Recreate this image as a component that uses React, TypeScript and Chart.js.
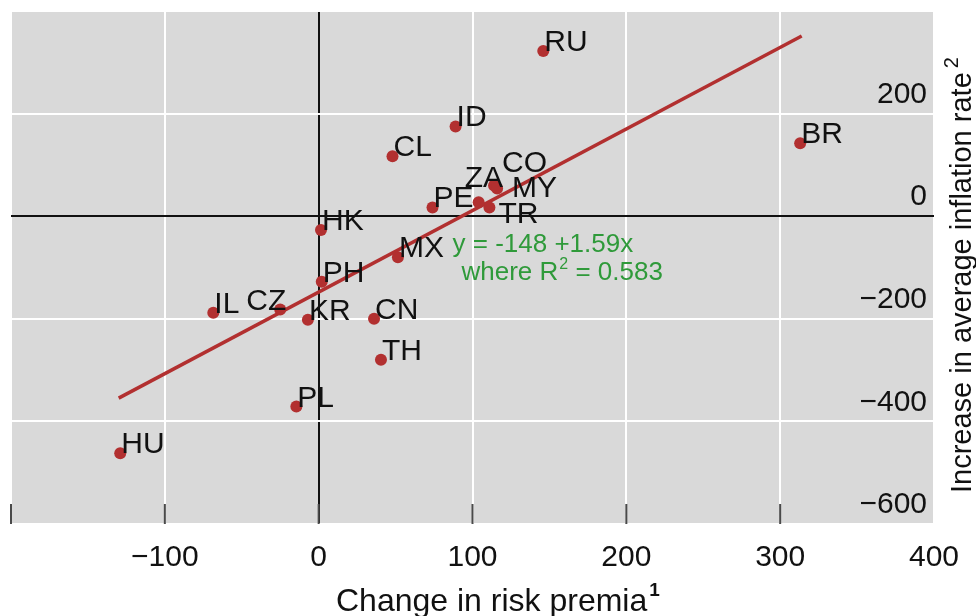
import { useEffect, useRef } from 'react';
import { Chart, registerables } from 'chart.js';

Chart.register(...registerables);

// ---- data ----
const countries = ['RU', 'ID', 'CL', 'BR', 'CO', 'MY', 'ZA', 'TR', 'PE', 'HK', 'MX', 'PH', 'IL', 'CZ', 'KR', 'CN', 'TH', 'PL', 'HU'];
const riskPremiaChange = [146, 89, 48, 313, 114, 116, 104, 111, 74, 1.5, 51.5, 2, -68.5, -25, -7, 36, 40.5, -14.5, -129];
const inflationIncrease = [322, 175, 117, 142, 60, 54, 27, 17, 17, -27, -80, -128, -188, -182, -202, -200, -280, -371, -462];
const fitIntercept = -148;
const fitSlope = 1.59;
const fitRSquared = 0.583;
const fitXRange = [-130, 314];
const xTickValues = [-200, -100, 0, 100, 200, 300, 400];
const yTickValues = [-600, -400, -200, 0, 200, 400];
const xTitle = 'Change in risk premia';
const xTitleNote = '1';
const yTitle = 'Increase in average inflation rate';
const yTitleNote = '2';

const FONT = '"Liberation Sans", Arial, Helvetica, sans-serif';
const RED = '#b23030';
const GREEN = '#2f9a3a';
const INK = '#111111';

// label placement tweaks (text offsets relative to each dot)
const labelPlacement: Record<string, { dx: number; dy: number; align: CanvasTextAlign }> = {
  CZ: { dx: 6, dy: 0, align: 'right' },
  ZA: { dx: -14, dy: -15, align: 'left' },
  CO: { dx: 8, dy: -13, align: 'left' },
  MY: { dx: 15, dy: 9, align: 'left' },
  TR: { dx: 9, dy: 16, align: 'left' },
};

const fmt = (v: number) => (v < 0 ? '\u2212' + Math.abs(v) : String(v));

export default function App() {
  const ref = useRef<HTMLCanvasElement | null>(null);

  useEffect(() => {
    if (!ref.current) return;

    const bgPlugin = {
      id: 'bg',
      beforeDraw(chart: any) {
        const { ctx, chartArea: a } = chart;
        ctx.save();
        ctx.fillStyle = '#ffffff';
        ctx.fillRect(0, 0, chart.width, chart.height);
        ctx.fillStyle = '#d9d9d9';
        ctx.fillRect(a.left, a.top, a.right - a.left, a.bottom - a.top);
        ctx.restore();
      },
      beforeDatasetsDraw(chart: any) {
        const { ctx, chartArea: a } = chart;
        const xs = chart.scales.x;
        ctx.save();
        ctx.strokeStyle = '#4a4a4a';
        ctx.lineWidth = 2;
        xTickValues.forEach((v) => {
          if (v >= 400) return;
          const px = xs.getPixelForValue(v);
          ctx.beginPath();
          ctx.moveTo(px, a.bottom - 20);
          ctx.lineTo(px, a.bottom);
          ctx.stroke();
        });
        ctx.restore();
      },
      afterDatasetsDraw(chart: any) {
        const { ctx } = chart;
        const meta = chart.getDatasetMeta(0);
        ctx.save();
        ctx.font = `30px ${FONT}`;
        ctx.fillStyle = INK;
        ctx.textBaseline = 'alphabetic';
        meta.data.forEach((el: any, i: number) => {
          const name = countries[i];
          const p = labelPlacement[name] || { dx: 1, dy: 0, align: 'left' as CanvasTextAlign };
          ctx.textAlign = p.align;
          ctx.fillText(name, el.x + p.dx, el.y + p.dy);
        });

        // regression annotation
        const xs = chart.scales.x;
        const ys = chart.scales.y;
        const ax = xs.getPixelForValue(87);
        const ay = ys.getPixelForValue(-70);
        ctx.fillStyle = GREEN;
        ctx.font = `26px ${FONT}`;
        ctx.textAlign = 'left';
        ctx.fillText(`y = ${fitIntercept} +${fitSlope}x`, ax, ay);
        const l2x = ax + 9;
        const l2y = ay + 28;
        const part1 = 'where R';
        ctx.fillText(part1, l2x, l2y);
        const w1 = ctx.measureText(part1).width;
        ctx.font = `16px ${FONT}`;
        ctx.fillText('2', l2x + w1 + 1, l2y - 11);
        const w2 = ctx.measureText('2').width;
        ctx.font = `26px ${FONT}`;
        ctx.fillText(` = ${fitRSquared}`, l2x + w1 + w2 + 1, l2y);

        // x title
        ctx.fillStyle = INK;
        ctx.font = `32px ${FONT}`;
        const tx = 336;
        const ty = 611;
        ctx.fillText(xTitle, tx, ty);
        const tw = ctx.measureText(xTitle).width;
        ctx.font = `bold 19px ${FONT}`;
        ctx.fillText(xTitleNote, tx + tw + 2, ty - 15);

        // y title (rotated, reading bottom to top)
        ctx.save();
        ctx.translate(971, 493);
        ctx.rotate(-Math.PI / 2);
        ctx.font = `29px ${FONT}`;
        ctx.fillText(yTitle, 0, 0);
        const yw = ctx.measureText(yTitle).width;
        ctx.font = `20px ${FONT}`;
        ctx.fillText(yTitleNote, yw + 4, -13);
        ctx.restore();

        ctx.restore();
      },
    };

    const fitData = fitXRange.map((x) => ({ x, y: fitIntercept + fitSlope * x }));

    const chart = new Chart(ref.current, {
      type: 'scatter',
      data: {
        datasets: [
          {
            label: 'countries',
            data: countries.map((_, i) => ({ x: riskPremiaChange[i], y: inflationIncrease[i] })),
            pointRadius: 6,
            pointBackgroundColor: RED,
            pointBorderWidth: 0,
            borderWidth: 0,
          },
          {
            type: 'line',
            label: 'fit',
            data: fitData,
            borderColor: RED,
            borderWidth: 3.5,
            pointRadius: 0,
            showLine: true,
            fill: false,
          } as any,
        ],
      },
      options: {
        responsive: false,
        animation: false,
        devicePixelRatio: 1,
        layout: { padding: { left: 11, top: 11, right: 0, bottom: 0 } },
        plugins: { legend: { display: false }, tooltip: { enabled: false }, title: { display: false } },
        scales: {
          x: {
            type: 'linear',
            position: 'bottom',
            min: -200,
            max: 400,
            afterBuildTicks: (s: any) => {
              s.ticks = xTickValues.map((v) => ({ value: v }));
            },
            afterFit: (s: any) => {
              s.height = 92;
              s.paddingLeft = 0;
              s.paddingRight = 0;
            },
            border: { display: false },
            grid: {
              drawTicks: false,
              color: (c: any) => (c.tick && c.tick.value === 0 ? INK : '#ffffff'),
              lineWidth: 2,
            },
            ticks: {
              autoSkip: false,
              maxRotation: 0,
              padding: 16,
              color: INK,
              font: { family: FONT, size: 30 },
              callback: (v: any) => (v === -200 ? '' : fmt(Number(v))),
            },
          },
          y: {
            type: 'linear',
            position: 'right',
            min: -600,
            max: 400,
            afterBuildTicks: (s: any) => {
              s.ticks = yTickValues.map((v) => ({ value: v }));
            },
            afterFit: (s: any) => {
              s.width = 42;
              s.paddingTop = 0;
              s.paddingBottom = 0;
            },
            border: { display: false },
            grid: {
              drawTicks: false,
              color: (c: any) => (c.tick && c.tick.value === 0 ? INK : '#ffffff'),
              lineWidth: 2,
            },
            ticks: {
              mirror: true,
              padding: -7,
              labelOffset: -19,
              color: INK,
              font: { family: FONT, size: 30 },
              callback: (v: any) => (v === 400 ? '' : fmt(Number(v))),
            },
          },
        },
      },
      plugins: [bgPlugin],
    });

    return () => chart.destroy();
  }, []);

  return (
    <div style={{ position: 'fixed', left: 0, top: 0, width: 976, height: 616, background: '#fff' }}>
      <canvas ref={ref} width={976} height={616} style={{ width: 976, height: 616, display: 'block' }} />
    </div>
  );
}
